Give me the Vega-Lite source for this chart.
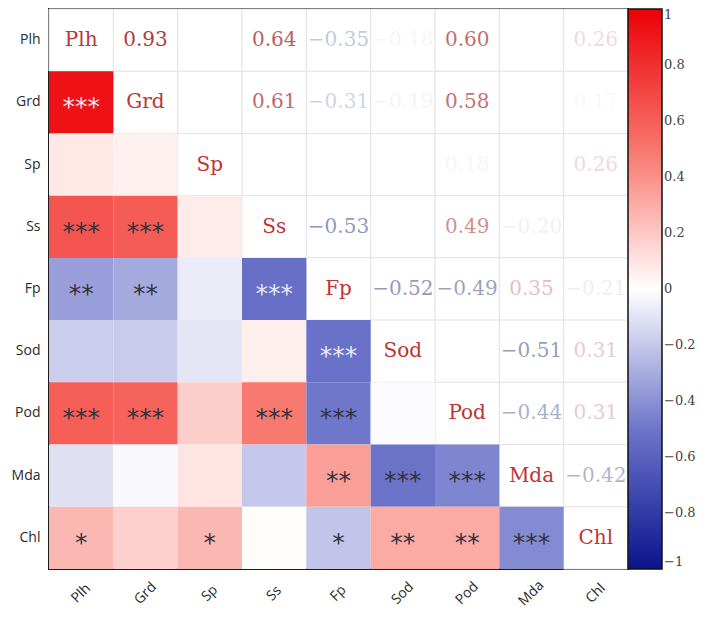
{
  "$schema": "https://vega.github.io/schema/vega-lite/v6.json",
  "width": 579,
  "height": 560,
  "padding": {"left": 11, "top": 8, "right": 5, "bottom": 5},
  "background": "white",
  "config": {
    "view": {"stroke": "#1c1c1c", "strokeWidth": 2},
    "axis": {
      "title": null,
      "ticks": false,
      "domain": false,
      "grid": false,
      "labelFont": "Open Sans",
      "labelFontSize": 14,
      "labelColor": "#2a2a2a"
    },
    "axisX": {"labelAngle": -45, "labelAlign": "center", "labelBaseline": "middle", "labelPadding": 24},
    "axisY": {"labelPadding": 9},
    "legend": {
      "title": null,
      "offset": 0,
      "gradientLength": 560,
      "gradientThickness": 34,
      "gradientStrokeColor": "#111",
      "gradientStrokeWidth": 1.5,
      "labelFont": "DejaVu Serif",
      "labelFontSize": 13,
      "labelColor": "#444",
      "labelOffset": 14,
      "labelOverlap": false
    }
  },
  "datasets": {
    "pairs": [
      {"a": "Grd", "b": "Plh", "r": 0.93, "sig": "***"},
      {"a": "Sp", "b": "Plh", "r": 0.08, "sig": ""},
      {"a": "Sp", "b": "Grd", "r": 0.05, "sig": ""},
      {"a": "Ss", "b": "Plh", "r": 0.64, "sig": "***"},
      {"a": "Ss", "b": "Grd", "r": 0.61, "sig": "***"},
      {"a": "Ss", "b": "Sp", "r": 0.07, "sig": ""},
      {"a": "Fp", "b": "Plh", "r": -0.35, "sig": "**"},
      {"a": "Fp", "b": "Grd", "r": -0.31, "sig": "**"},
      {"a": "Fp", "b": "Sp", "r": -0.07, "sig": ""},
      {"a": "Fp", "b": "Ss", "r": -0.53, "sig": "***"},
      {"a": "Sod", "b": "Plh", "r": -0.18, "sig": ""},
      {"a": "Sod", "b": "Grd", "r": -0.19, "sig": ""},
      {"a": "Sod", "b": "Sp", "r": -0.09, "sig": ""},
      {"a": "Sod", "b": "Ss", "r": 0.06, "sig": ""},
      {"a": "Sod", "b": "Fp", "r": -0.52, "sig": "***"},
      {"a": "Pod", "b": "Plh", "r": 0.60, "sig": "***"},
      {"a": "Pod", "b": "Grd", "r": 0.58, "sig": "***"},
      {"a": "Pod", "b": "Sp", "r": 0.18, "sig": ""},
      {"a": "Pod", "b": "Ss", "r": 0.49, "sig": "***"},
      {"a": "Pod", "b": "Fp", "r": -0.49, "sig": "***"},
      {"a": "Pod", "b": "Sod", "r": -0.01, "sig": ""},
      {"a": "Mda", "b": "Plh", "r": -0.11, "sig": ""},
      {"a": "Mda", "b": "Grd", "r": -0.02, "sig": ""},
      {"a": "Mda", "b": "Sp", "r": 0.10, "sig": ""},
      {"a": "Mda", "b": "Ss", "r": -0.20, "sig": ""},
      {"a": "Mda", "b": "Fp", "r": 0.35, "sig": "**"},
      {"a": "Mda", "b": "Sod", "r": -0.51, "sig": "***"},
      {"a": "Mda", "b": "Pod", "r": -0.44, "sig": "***"},
      {"a": "Chl", "b": "Plh", "r": 0.26, "sig": "*"},
      {"a": "Chl", "b": "Grd", "r": 0.17, "sig": ""},
      {"a": "Chl", "b": "Sp", "r": 0.26, "sig": "*"},
      {"a": "Chl", "b": "Ss", "r": 0.01, "sig": ""},
      {"a": "Chl", "b": "Fp", "r": -0.21, "sig": "*"},
      {"a": "Chl", "b": "Sod", "r": 0.31, "sig": "**"},
      {"a": "Chl", "b": "Pod", "r": 0.31, "sig": "**"},
      {"a": "Chl", "b": "Mda", "r": -0.42, "sig": "***"}
    ],
    "vars": [
      {"v": "Plh"}, {"v": "Grd"}, {"v": "Sp"}, {"v": "Ss"}, {"v": "Fp"},
      {"v": "Sod"}, {"v": "Pod"}, {"v": "Mda"}, {"v": "Chl"}
    ]
  },
  "layer": [
    {
      "data": {"name": "pairs"},
      "mark": {"type": "rect", "fill": "white", "stroke": "#e4e4e4", "strokeWidth": 1},
      "encoding": {
        "x": {"field": "a", "type": "nominal", "scale": {"domain": ["Plh", "Grd", "Sp", "Ss", "Fp", "Sod", "Pod", "Mda", "Chl"], "paddingInner": 0, "paddingOuter": 0}},
        "y": {"field": "b", "type": "nominal", "scale": {"domain": ["Plh", "Grd", "Sp", "Ss", "Fp", "Sod", "Pod", "Mda", "Chl"], "paddingInner": 0, "paddingOuter": 0}}
      }
    },
    {
      "data": {"name": "vars"},
      "mark": {"type": "rect", "fill": "white", "stroke": "#e4e4e4", "strokeWidth": 1},
      "encoding": {
        "x": {"field": "v", "type": "nominal"},
        "y": {"field": "v", "type": "nominal"}
      }
    },
    {
      "data": {"name": "pairs"},
      "mark": {"type": "rect"},
      "encoding": {
        "x": {"field": "b", "type": "nominal"},
        "y": {"field": "a", "type": "nominal"},
        "color": {
          "field": "r",
          "type": "quantitative",
          "scale": {
            "domain": [-1, -0.5, 0, 0.5, 1],
            "range": ["#0a148c", "#6d75ca", "#ffffff", "#f8766c", "#ec0008"],
            "interpolate": "rgb"
          },
          "legend": {"values": [1, 0.8, 0.6, 0.4, 0.2, 0, -0.2, -0.4, -0.6, -0.8, -1], "format": "~g"}
        }
      }
    },
    {
      "data": {"name": "pairs"},
      "mark": {"type": "text", "font": "DejaVu Sans", "fontSize": 25, "baseline": "middle", "dy": 5},
      "encoding": {
        "x": {"field": "b", "type": "nominal"},
        "y": {"field": "a", "type": "nominal"},
        "text": {"field": "sig"},
        "color": {"condition": {"test": "datum.r > 0.8 || datum.r < -0.515", "value": "#e8e8f4"}, "value": "#33333f"}
      }
    },
    {
      "data": {"name": "pairs"},
      "mark": {"type": "text", "font": "DejaVu Serif", "fontSize": 20, "baseline": "middle"},
      "encoding": {
        "x": {"field": "a", "type": "nominal"},
        "y": {"field": "b", "type": "nominal"},
        "text": {"field": "r", "format": ".2f"},
        "color": {"condition": {"test": "datum.r < 0", "value": "#4d5f96"}, "value": "#ad3c3c"},
        "opacity": {
          "field": "r",
          "type": "quantitative",
          "scale": {"domain": [-1, -0.75, -0.15, 0, 0.15, 0.75, 1], "range": [1, 1, 0, 0, 0, 1, 1]},
          "legend": null
        }
      }
    },
    {
      "data": {"name": "vars"},
      "mark": {"type": "text", "font": "DejaVu Serif", "fontSize": 20, "baseline": "middle", "color": "#bd3434"},
      "encoding": {
        "x": {"field": "v", "type": "nominal"},
        "y": {"field": "v", "type": "nominal"},
        "text": {"field": "v"}
      }
    }
  ]
}
